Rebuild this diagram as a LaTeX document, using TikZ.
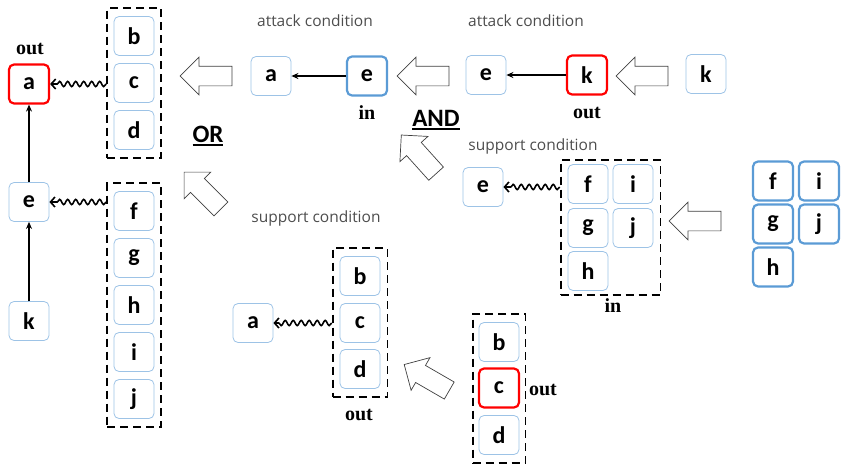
\documentclass[tikz,border=0pt]{standalone}
\usepackage{fontspec}
\usetikzlibrary{arrows.meta,decorations.pathmorphing,shapes.arrows,fit}
\newfontfamily\letterfont{Carlito}
\newfontfamily\tagfont{Liberation Serif}
\newfontfamily\captionfont{Open Sans}
\newfontfamily\opfont{Carlito}
\definecolor{paleblue}{HTML}{9DC3E6}
\definecolor{midblue}{HTML}{5B9BD5}
\definecolor{capgray}{HTML}{4D4D4D}
\definecolor{arrgray}{HTML}{404040}
\newcommand\ulbox[1]{\setbox0\hbox{#1}\rlap{\rule[-3.5pt]{\wd0}{1.6pt}}\box0}
\tikzset{
  elem/.style={rounded corners=5pt, minimum width=40pt, minimum height=39pt,
    inner sep=0pt, draw=paleblue, line width=0.8pt,
    font=\letterfont\bfseries\fontsize{24}{24}\selectfont},
  redelem/.style={elem, draw=red, line width=2.2pt},
  blueelem/.style={elem, draw=midblue, line width=2.2pt},
  group/.style={draw, line width=1.8pt, dash pattern=on 8pt off 5pt, inner sep=0pt},
  tag/.style={font=\tagfont\bfseries\fontsize{20}{20}\selectfont},
  caption/.style={font=\captionfont\fontsize{15.5}{15.5}\selectfont, text=capgray},
  opword/.style={font=\opfont\bfseries\fontsize{25}{25}\selectfont},
  hollow/.style={single arrow, draw=arrgray, fill=white, line width=0.7pt,
    minimum height=52pt, single arrow head extend=9pt,
    inner xsep=0pt, inner ysep=9.5pt},
  plain/.style={line width=1.6pt, -{Stealth[length=7pt,width=6pt]}},
  wavy/.style={line width=1.6pt, -{Straight Barb[length=4.5pt,width=10pt]},
    decorate, decoration={snake, amplitude=2.6pt, segment length=8pt,
    post length=5pt}},
}
\begin{document}
\begin{tikzpicture}[x=1pt,y=-1pt]
\useasboundingbox (0,0) rectangle (841,464);

% ---- left column: result
\node[redelem] (a1) at (29,84) {a};
\node[elem] (e1) at (29,202) {e};
\node[elem] (k1) at (29,321) {k};
\node[tag] (out1) at (30,49) {out};
\node[elem] (b1) at (134,36) {b};
\node[elem] (c1) at (134,83) {c};
\node[elem] (d1) at (134,130) {d};
\node[elem] (f1) at (134,211) {f};
\node[elem] (g1) at (134,258) {g};
\node[elem] (h1) at (134,305) {h};
\node[elem] (i1) at (134,352) {i};
\node[elem] (j1) at (134,399) {j};
\node[group, fit=(b1)(d1), inner xsep=6.5pt, inner ysep=8pt] (grp1) {};
\node[group, fit=(f1)(j1), inner xsep=6.5pt, inner ysep=8pt] (grp2) {};
\draw[plain] (e1) -- (a1);
\draw[plain] (k1) -- (e1);
\draw[wavy] (grp1.west |- a1) -- (a1.east);
\draw[wavy] (grp2.west |- e1) -- (e1.east);

% ---- OR / AND arrows
\node[hollow, rotate=180] (ar1) at (211,76) {};
\node[hollow, rotate=135] (ar2) at (206,194) {};
\node[opword] (or) at (208,136) {\ulbox{OR}};
\node[hollow, rotate=180] (ar3) at (428,76) {};
\node[hollow, rotate=132] (ar4) at (422,158) {};
\node[opword] (and) at (436,120) {\ulbox{AND}};

% ---- attack condition (middle)
\node[caption] (cap1) at (315,21) {attack condition};
\node[elem] (a2) at (271,76) {a};
\node[blueelem] (e2) at (367,76) {e};
\node[tag] (in2) at (367,113) {in};
\draw[plain] (e2) -- (a2);

% ---- attack condition (right)
\node[caption] (cap2) at (526,21) {attack condition};
\node[elem] (e3) at (486,75) {e};
\node[redelem] (k3) at (587,75) {k};
\node[tag] (out3) at (587,113) {out};
\draw[plain] (k3) -- (e3);
\node[hollow, rotate=180] (ar5) at (647,76) {};
\node[elem] (k4) at (706,74) {k};

% ---- support condition (right)
\node[caption] (cap3) at (533,146) {support condition};
\node[elem] (e4) at (483,187) {e};
\node[elem] (f4) at (588,184) {f};
\node[elem] (i4) at (633,184) {i};
\node[elem] (g4) at (588,228) {g};
\node[elem] (j4) at (633,228) {j};
\node[elem] (h4) at (588,271) {h};
\node[group, fit=(f4)(j4)(h4), inner xsep=7pt, inner ysep=4pt] (grp4) {};
\node[tag] (in4) at (613,306) {in};
\draw[wavy] (grp4.west |- e4) -- (e4.east);
\node[hollow, rotate=180] (ar6) at (700,221) {};
\node[blueelem] (f5) at (773,181) {f};
\node[blueelem] (i5) at (819,181) {i};
\node[blueelem] (g5) at (773,224) {g};
\node[blueelem] (j5) at (819,224) {j};
\node[blueelem] (h5) at (773,267) {h};

% ---- support condition (bottom)
\node[caption] (cap4) at (316,218) {support condition};
\node[elem] (a6) at (253,323) {a};
\node[elem] (b6) at (360,276) {b};
\node[elem] (c6) at (360,323) {c};
\node[elem] (d6) at (360,369) {d};
\node[group, fit=(b6)(d6), inner xsep=7pt, inner ysep=8pt] (grp6) {};
\node[tag] (out6) at (359,415) {out};
\draw[wavy] (grp6.west |- a6) -- (a6.east);
\node[hollow, rotate=150] (ar7) at (431,380) {};
\node[elem] (b7) at (499,342) {b};
\node[redelem] (c7) at (499,388) {c};
\node[elem] (d7) at (499,435) {d};
\node[group, fit=(b7)(d7), inner xsep=6pt, inner ysep=8pt] (grp7) {};
\node[tag] (out7) at (543,390) {out};
\end{tikzpicture}
\end{document}
